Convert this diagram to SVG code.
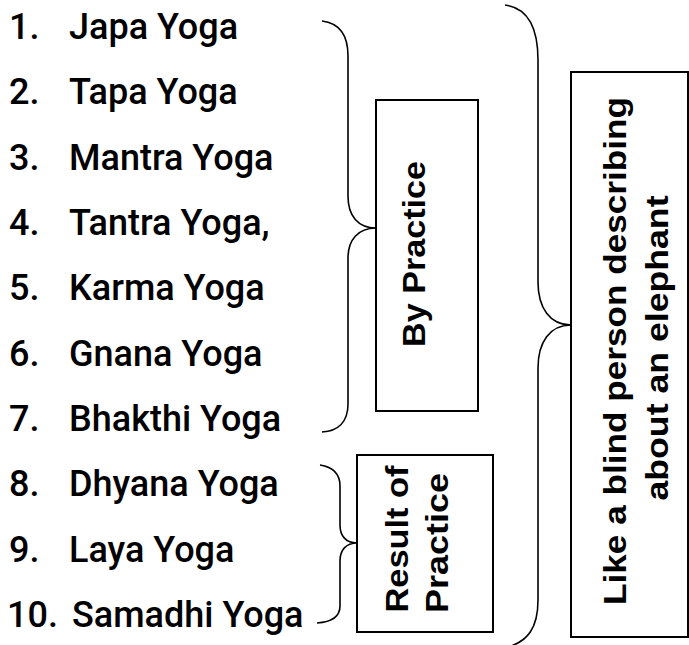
<svg xmlns="http://www.w3.org/2000/svg" width="689" height="645" viewBox="0 0 689 645">
<style>
.item{font-family:Roboto,"Liberation Sans",sans-serif;font-size:36px;font-weight:500;fill:#000}
.lbl{font-family:"Liberation Sans",Arial,sans-serif;font-size:32px;font-weight:bold;fill:#000;text-anchor:middle}
.box{fill:#fff;stroke:#000;stroke-width:2}
.brace{fill:none;stroke:#000;stroke-width:1.6}
</style>
<rect width="689" height="645" fill="#fff"/>
<g id="list">
<text class="item" x="9" y="39">1.</text><text class="item" x="69" y="39">Japa Yoga</text>
<text class="item" x="9" y="104">2.</text><text class="item" x="69" y="104">Tapa Yoga</text>
<text class="item" x="9" y="170">3.</text><text class="item" x="69" y="170">Mantra Yoga</text>
<text class="item" x="9" y="235">4.</text><text class="item" x="69" y="235">Tantra Yoga,</text>
<text class="item" x="9" y="300">5.</text><text class="item" x="69" y="300">Karma Yoga</text>
<text class="item" x="9" y="366">6.</text><text class="item" x="69" y="366">Gnana Yoga</text>
<text class="item" x="9" y="431">7.</text><text class="item" x="69" y="431">Bhakthi Yoga</text>
<text class="item" x="9" y="496">8.</text><text class="item" x="69" y="496">Dhyana Yoga</text>
<text class="item" x="9" y="562">9.</text><text class="item" x="69" y="562">Laya Yoga</text>
<text class="item" x="7" y="627">10.</text><text class="item" x="72" y="627">Samadhi Yoga</text>
</g>
<g id="connectors">
<path class="brace" d="M322,21 C338,23 348,34 348,56 L348,196 C348,216 358,228 376,228 C358,228 348,240 348,258 L348,404 C348,422 338,431 322,432"/>
<path class="brace" d="M320,465 C333,467 340,474 340,486 L340,525 C340,536 346,543 357,543 C346,543 340,550 340,561 L340,606 C340,617 332,622 317,623"/>
<path class="brace" d="M505,5 C528,8 538,28 538,60 L538,282 C538,308 550,325 571,325 C550,325 538,342 538,368 L538,600 C538,628 528,642 505,648"/>
</g>
<g id="by-practice">
<rect class="box" x="376" y="100" width="102" height="311"/>
<text class="lbl" transform="translate(425,254) rotate(-90)" x="0" y="0" textLength="186" lengthAdjust="spacingAndGlyphs">By Practice</text>
</g>
<g id="result-of-practice">
<rect class="box" x="357" y="455" width="136" height="177"/>
<text class="lbl" transform="translate(408,539) rotate(-90)" x="0" y="0" textLength="147" lengthAdjust="spacingAndGlyphs">Result of</text>
<text class="lbl" transform="translate(448,543) rotate(-90)" x="0" y="0" textLength="140" lengthAdjust="spacingAndGlyphs">Practice</text>
</g>
<g id="blind-person">
<rect class="box" x="571" y="72" width="117" height="565"/>
<text class="lbl" transform="translate(626,351) rotate(-90)" x="0" y="0" textLength="508" lengthAdjust="spacingAndGlyphs">Like a blind person describing</text>
<text class="lbl" transform="translate(668,348) rotate(-90)" x="0" y="0" textLength="305" lengthAdjust="spacingAndGlyphs">about an elephant</text>
</g>
</svg>
